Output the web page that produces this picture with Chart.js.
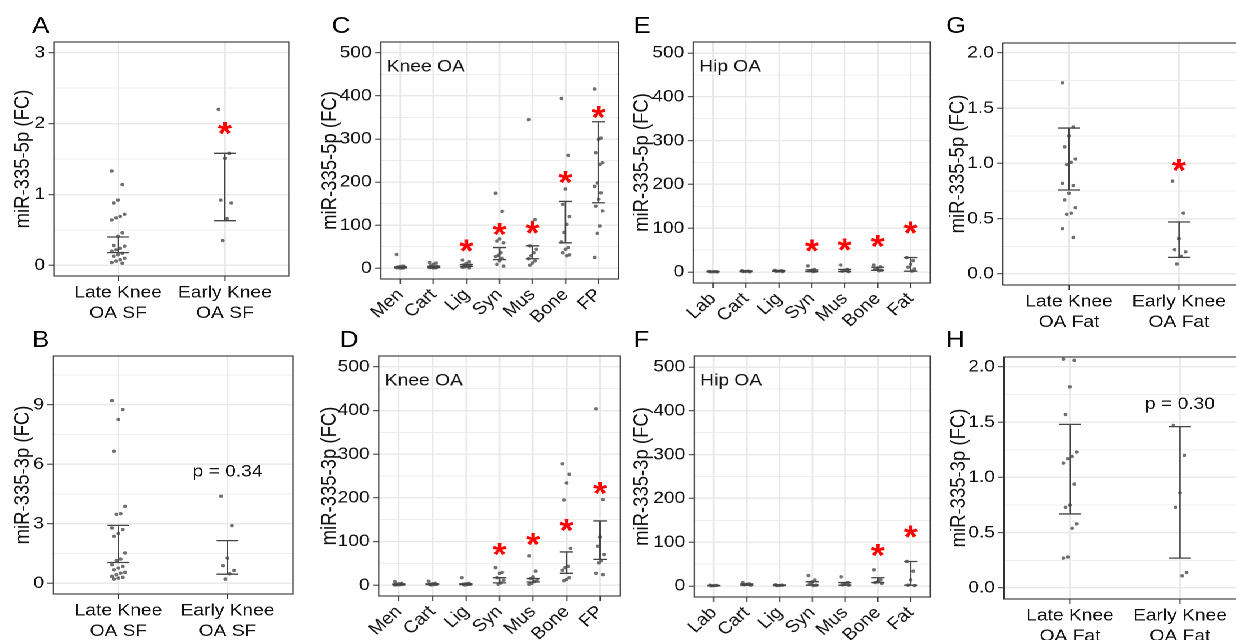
<!DOCTYPE html>
<html>
<head>
<meta charset="utf-8">
<script src="https://cdn.jsdelivr.net/npm/chart.js@4.4.1/dist/chart.umd.min.js"></script>
<style>
  html, body { margin:0; padding:0; background:#fff; overflow:hidden; width:1236px; height:640px; }
  #stage { position:absolute; left:0; top:0; width:1120px; height:640px; transform-origin:0 0; }
  .panel { position:absolute; }
</style>
</head>
<body>
<div id="stage"></div>
<script>
// the original figure is stretched sideways, so the whole stage is too
const STRETCH = 1.13;
const FONT = '"Liberation Sans", Arial, sans-serif';
const TXT = '#111';

// ---- categories ----
const sfGroups = [["Late Knee", "OA SF"], ["Early Knee", "OA SF"]];
const fatGroups = [["Late Knee", "OA Fat"], ["Early Knee", "OA Fat"]];
const kneeTissues = ["Men", "Cart", "Lig", "Syn", "Mus", "Bone", "FP"];
const hipTissues = ["Lab", "Cart", "Lig", "Syn", "Mus", "Bone", "Fat"];

// ---- y tick labels ----
const ticksA = [0, 1, 2, 3];
const ticksB = [0, 3, 6, 9];
const ticksTissue = [0, 100, 200, 300, 400, 500];
const ticksFat = [0, 0.5, 1.0, 1.5, 2.0];

// ---- A: miR-335-5p, knee SF ----
const aLate = [1.33, 1.14, 0.92, 0.88, 0.72, 0.69, 0.67, 0.64, 0.46, 0.41, 0.28, 0.27, 0.24, 0.22, 0.20, 0.17, 0.15, 0.13, 0.10, 0.08, 0.06, 0.04, 0.03];
const aEarly = [2.20, 1.58, 1.51, 0.92, 0.88, 0.66, 0.35];
const aLo = [0.18, 0.63];
const aHi = [0.40, 1.58];
const aStars = [null, 1.93];

// ---- B: miR-335-3p, knee SF ----
const bLate = [9.2, 8.75, 8.25, 6.65, 3.87, 3.5, 3.47, 2.78, 2.7, 2.5, 2.36, 1.52, 1.21, 1.14, 0.93, 0.84, 0.76, 0.67, 0.54, 0.5, 0.42, 0.34, 0.29, 0.25, 0.2];
const bEarly = [4.38, 2.9, 1.26, 0.88, 0.64, 0.47, 0.2];
const bLo = [1.04, 0.45];
const bHi = [2.91, 2.14];
const bP = "p = 0.34", bPy = 5.6;

// ---- C: miR-335-5p, knee tissues ----
const cMen = [32, 5, 4, 3, 2.5, 2, 1.5, 1, 0.5, 0.3];
const cCart = [13, 12, 9, 6, 4, 3, 2, 1.5, 1, 0.5];
const cLig = [19, 15, 11, 8, 7, 5, 3, 2, 1];
const cSyn = [174, 132, 68, 63, 59, 36, 30, 27, 23, 17, 9, 5];
const cMus = [345, 113, 107, 52, 44, 36, 29, 22, 17, 12, 7];
const cBone = [394, 262, 184, 148, 120, 102, 83, 61, 48, 44, 36, 31, 29];
const cFP = [416, 302, 299, 268, 245, 241, 198, 190, 175, 160, 144, 133, 98, 81, 25];
const cLo = [1, 1.5, 4, 20, 22, 59, 152];
const cHi = [3, 4.5, 8.5, 48, 52, 155, 340];
const cStars = [null, null, 52, 90, 93, 211, 361];

// ---- D: miR-335-3p, knee tissues ----
const dMen = [8, 4, 3, 2, 1.5, 1, 0.5, 0.3];
const dCart = [9, 4, 3, 2, 1.5, 1, 0.5];
const dLig = [17, 4, 3, 2, 1.5, 1, 0.5];
const dSyn = [40, 29, 27, 17, 11, 5, 2];
const dMus = [67, 32, 19, 15, 11, 8, 4, 2];
const dBone = [278, 254, 234, 195, 84, 43, 40, 34, 17, 13, 10];
const dFP = [404, 196, 110, 89, 70, 56, 51, 27, 24];
const dLo = [0.5, 1, 1, 5, 7, 27, 59];
const dHi = [2.5, 3, 3, 17, 15, 76, 147];
const dStars = [null, null, null, 81, 105, 137, 221];

// ---- E: miR-335-5p, hip tissues ----
const eLab = [1.5, 1, 0.8, 0.5, 0.3];
const eCart = [3, 2, 1.5, 1, 0.5];
const eLig = [4, 3, 2, 1.5, 1];
const eSyn = [14, 6, 4, 3, 2, 1];
const eMus = [16, 6, 4, 2, 1];
const eBone = [16, 12, 9, 6, 4, 3];
const eFat = [33, 26, 18, 11, 7, 2];
const eLo = [0.5, 1, 1.5, 1, 1, 4, 2];
const eHi = [1.5, 2.5, 3.5, 5, 6, 11, 33];
const eStars = [null, null, null, 60, 62, 70, 100];

// ---- F: miR-335-3p, hip tissues ----
const fLab = [2, 1.5, 1, 0.5];
const fCart = [8, 5, 4, 3, 2];
const fLig = [3, 2, 1.5, 1];
const fSyn = [24, 14, 10, 5, 2, 1];
const fMus = [21, 8, 5, 3, 2];
const fBone = [37, 14, 10, 8, 6];
const fFat = [56, 34, 14, 2, 1];
const fLo = [0.5, 2, 1, 2, 2, 8, 2];
const fHi = [1.5, 5, 2.5, 10, 8, 19, 56];
const fStars = [null, null, null, null, null, 81, 123];

// ---- G: miR-335-5p, knee fat ----
const gLate = [1.73, 1.33, 1.25, 1.15, 1.04, 1.01, 0.99, 0.82, 0.80, 0.73, 0.67, 0.60, 0.55, 0.54, 0.41, 0.33];
const gEarly = [0.84, 0.55, 0.32, 0.22, 0.20, 0.16, 0.09];
const gLo = [0.76, 0.15];
const gHi = [1.32, 0.47];
const gStars = [null, 0.98];

// ---- H: miR-335-3p, knee fat ----
const hLate = [2.07, 2.06, 1.82, 1.57, 1.23, 1.19, 1.17, 1.13, 0.94, 0.75, 0.73, 0.58, 0.54, 0.28, 0.27];
const hEarly = [1.47, 1.20, 0.86, 0.73, 0.14, 0.11];
const hLo = [0.67, 0.27];
const hHi = [1.48, 1.46];
const hP = "p = 0.30", hPy = 1.66;

// layout of each panel, in page pixels
const panels = [
  { letter: "A", pos: [32, 33], x0: 0, y0: 0, w: 310, h: 330, box: [54, 42, 289, 276], titleX: 23,
    title: "miR-335-5p (FC)", yMin: -0.15, yMax: 3.15, yTicks: ticksA, dec: 0,
    cats: sfGroups, values: [aLate, aEarly], lo: aLo, hi: aHi, stars: aStars, cap: 0.2, jit: 0.06 },
  { letter: "B", pos: [32, 347], x0: 0, y0: 318, w: 310, h: 322, box: [53, 356, 293, 594], titleX: 23,
    title: "miR-335-3p (FC)", yMin: -0.55, yMax: 11.45, yTicks: ticksB, dec: 0,
    cats: sfGroups, values: [bLate, bEarly], lo: bLo, hi: bHi, p: bP, py: bPy, cap: 0.2, jit: 0.06 },
  { letter: "C", pos: [332, 33], x0: 310, y0: 0, w: 315, h: 330, box: [381, 42, 618, 279], titleX: 331,
    title: "miR-335-5p (FC)", yMin: -25, yMax: 525, yTicks: ticksTissue, dec: 0, inset: "Knee OA", rot: 45,
    cats: kneeTissues, values: [cMen, cCart, cLig, cSyn, cMus, cBone, cFP], lo: cLo, hi: cHi, stars: cStars, cap: 0.4, jit: 0.12 },
  { letter: "D", pos: [340, 347], x0: 310, y0: 318, w: 315, h: 322, box: [379, 356, 620, 596], titleX: 330,
    title: "miR-335-3p (FC)", yMin: -25, yMax: 525, yTicks: ticksTissue, dec: 0, inset: "Knee OA", rot: 45,
    cats: kneeTissues, values: [dMen, dCart, dLig, dSyn, dMus, dBone, dFP], lo: dLo, hi: dHi, stars: dStars, cap: 0.4, jit: 0.12 },
  { letter: "E", pos: [633, 33], x0: 620, y0: 0, w: 315, h: 330, box: [693, 42, 933, 283], titleX: 642,
    title: "miR-335-5p (FC)", yMin: -25, yMax: 525, yTicks: ticksTissue, dec: 0, inset: "Hip OA", rot: 45,
    cats: hipTissues, values: [eLab, eCart, eLig, eSyn, eMus, eBone, eFat], lo: eLo, hi: eHi, stars: eStars, cap: 0.4, jit: 0.12 },
  { letter: "F", pos: [633, 347], x0: 620, y0: 318, w: 315, h: 322, box: [694, 356, 934, 597], titleX: 642,
    title: "miR-335-3p (FC)", yMin: -25, yMax: 525, yTicks: ticksTissue, dec: 0, inset: "Hip OA", rot: 45,
    cats: hipTissues, values: [fLab, fCart, fLig, fSyn, fMus, fBone, fFat], lo: fLo, hi: fHi, stars: fStars, cap: 0.4, jit: 0.12 },
  { letter: "G", pos: [946, 33], x0: 930, y0: 0, w: 330, h: 330, box: [1003, 43, 1245, 285], titleX: 958,
    title: "miR-335-5p (FC)", yMin: -0.1, yMax: 2.09, yTicks: ticksFat, dec: 1,
    cats: fatGroups, values: [gLate, gEarly], lo: gLo, hi: gHi, stars: gStars, cap: 0.2, jit: 0.06 },
  { letter: "H", pos: [946, 347], x0: 930, y0: 318, w: 330, h: 322, box: [1004, 357, 1246, 599], titleX: 959,
    title: "miR-335-3p (FC)", yMin: -0.1, yMax: 2.09, yTicks: ticksFat, dec: 1,
    cats: fatGroups, values: [hLate, hEarly], lo: hLo, hi: hHi, p: hP, py: hPy, cap: 0.2, jit: 0.06 }
];

const stage = document.getElementById("stage");
stage.style.transform = `scaleX(${STRETCH})`;

// small fixed spread so the dots do not sit on one line
function jitter(i, amp) {
  return ((((i * 5) % 7) - 3) / 3) * amp;
}

function minorTicks(major) {
  const out = [];
  major.forEach((v, i) => {
    out.push(v);
    if (i < major.length - 1) out.push((v + major[i + 1]) / 2);
  });
  const step = major[1] - major[0];
  out.push(major[major.length - 1] + step / 2);
  return out;
}

function decor(p) {
  return {
    id: "decor" + p.letter,
    afterDatasetsDraw(chart) {
      const { ctx, scales: { x, y } } = chart;
      ctx.save();
      ctx.strokeStyle = "#444";
      ctx.lineWidth = 1.3;
      p.lo.forEach((lo, i) => {
        const cx = x.getPixelForValue(i + 1);
        const hw = x.getPixelForValue(i + 1 + p.cap / 2) - cx;
        const yl = y.getPixelForValue(lo), yh = y.getPixelForValue(p.hi[i]);
        ctx.beginPath();
        ctx.moveTo(cx - hw, yh); ctx.lineTo(cx + hw, yh);
        ctx.moveTo(cx, yh); ctx.lineTo(cx, yl);
        ctx.moveTo(cx - hw, yl); ctx.lineTo(cx + hw, yl);
        ctx.stroke();
      });
      if (p.stars) {
        ctx.fillStyle = "#ff0000";
        ctx.font = `bold 32px ${FONT}`;
        ctx.textAlign = "center";
        const m = ctx.measureText("*");
        const off = (m.actualBoundingBoxAscent - m.actualBoundingBoxDescent) / 2;
        p.stars.forEach((v, i) => {
          if (v == null) return;
          ctx.fillText("*", x.getPixelForValue(i + 1), y.getPixelForValue(v) + off);
        });
      }
      if (p.p) {
        ctx.fillStyle = TXT;
        ctx.font = `17px ${FONT}`;
        ctx.textAlign = "center";
        ctx.textBaseline = "middle";
        ctx.fillText(p.p, x.getPixelForValue(2), y.getPixelForValue(p.py));
      }
      ctx.restore();
    },
    afterDraw(chart) {
      const { ctx, chartArea: a } = chart;
      ctx.save();
      ctx.strokeStyle = "#333";
      ctx.lineWidth = 1.1;
      ctx.strokeRect(a.left, a.top, a.right - a.left, a.bottom - a.top);
      ctx.fillStyle = TXT;
      if (p.inset) {
        ctx.font = `17px ${FONT}`;
        ctx.textAlign = "left";
        ctx.textBaseline = "middle";
        ctx.fillText(p.inset, a.left + 6 / STRETCH, a.top + 25);
      }
      ctx.fillStyle = "#000";
      ctx.font = `23px ${FONT}`;
      ctx.textAlign = "left";
      ctx.textBaseline = "alphabetic";
      ctx.fillText(p.letter, (p.pos[0] - p.x0) / STRETCH, p.pos[1] - p.y0);
      ctx.restore();
    }
  };
}

panels.forEach(p => {
  const wrap = document.createElement("div");
  wrap.className = "panel";
  const cw = p.w / STRETCH;
  wrap.style.left = (p.x0 / STRETCH) + "px";
  wrap.style.top = p.y0 + "px";
  wrap.style.width = cw + "px";
  wrap.style.height = p.h + "px";
  const canvas = document.createElement("canvas");
  wrap.appendChild(canvas);
  stage.appendChild(wrap);

  const [bl, bt, br, bb] = p.box;
  const points = p.values.flatMap((arr, ci) =>
    arr.map((v, i) => ({ x: ci + 1 + jitter(i, p.jit), y: v })));
  const yAll = minorTicks(p.yTicks);
  const isMajor = v => p.yTicks.some(t => Math.abs(t - v) < 1e-9);

  new Chart(canvas, {
    type: "scatter",
    data: {
      datasets: [{
        data: points,
        pointRadius: 1.7,
        pointBorderWidth: 0,
        backgroundColor: "rgba(77,77,77,0.8)"
      }]
    },
    options: {
      responsive: true,
      maintainAspectRatio: false,
      animation: false,
      devicePixelRatio: 2,
      layout: { padding: { left: 0, top: bt - p.y0, right: (p.x0 + p.w - br) / STRETCH, bottom: 0 } },
      plugins: { legend: { display: false }, tooltip: { enabled: false } },
      scales: {
        x: {
          type: "linear",
          min: 0.4,
          max: p.cats.length + 0.6,
          afterBuildTicks: s => { s.ticks = p.cats.map((c, i) => ({ value: i + 1 })); },
          afterFit: s => { s.height = (p.y0 + p.h) - bb; },
          ticks: {
            autoSkip: false,
            minRotation: p.rot || 0,
            maxRotation: p.rot || 0,
            padding: p.rot ? 1 : 2,
            color: TXT,
            font: { family: FONT, size: 17, lineHeight: 1.18 },
            callback: v => p.cats[Math.round(v) - 1]
          },
          grid: { color: "#e8e8e8", lineWidth: 1.4, tickColor: "#333", tickLength: 5, tickWidth: 1 },
          border: { display: false }
        },
        y: {
          type: "linear",
          min: p.yMin,
          max: p.yMax,
          afterBuildTicks: s => { s.ticks = yAll.filter(v => v <= p.yMax).map(v => ({ value: v })); },
          afterFit: s => { s.width = (bl - p.x0) / STRETCH; },
          ticks: {
            autoSkip: false,
            padding: 3,
            color: TXT,
            font: { family: FONT, size: 17 },
            callback: v => isMajor(v) ? v.toFixed(p.dec) : ""
          },
          grid: {
            color: "#e8e8e8",
            lineWidth: c => isMajor(c.tick.value) ? 1.4 : 0.8,
            tickColor: c => isMajor(c.tick.value) ? "#333" : "rgba(0,0,0,0)",
            tickLength: 5,
            tickWidth: 1
          },
          border: { display: false },
          title: {
            display: true,
            text: p.title,
            color: TXT,
            font: { family: FONT, size: 18.5, lineHeight: 1.2 },
            padding: { top: (p.titleX - p.x0) / STRETCH - 11.1, bottom: 0 }
          }
        }
      }
    },
    plugins: [decor(p)]
  });
});
</script>
</body>
</html>
